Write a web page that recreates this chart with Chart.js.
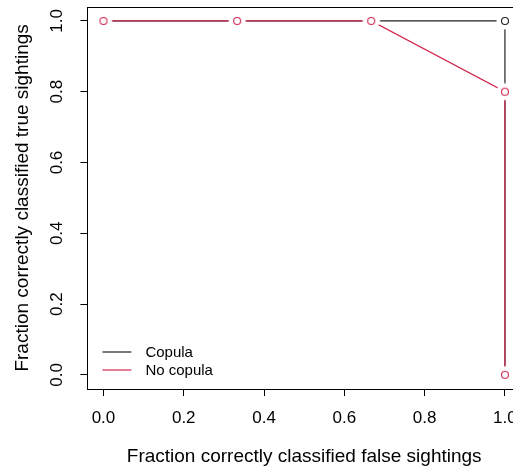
<!DOCTYPE html>
<html>
<head>
<meta charset="utf-8">
<script src="https://cdn.jsdelivr.net/npm/chart.js@4/dist/chart.umd.min.js"></script>
<style>
  html, body { margin: 0; padding: 0; background: #fff; }
  body { width: 513px; height: 468px; overflow: hidden; }
  canvas { display: block; }
</style>
</head>
<body>
<canvas id="rocChart" width="540" height="468"></canvas>
<script>
const seriesNames = ['Copula', 'No copula'];
const seriesColors = ['#222222', '#d42a52'];

// fraction of false sightings classified correctly (x) vs true sightings (y)
const copulaX = [0, 0.333, 0.667, 1, 1];
const copulaY = [1, 1, 1, 1, 0];
const noCopulaX = [0, 0.333, 0.667, 1, 1];
const noCopulaY = [1, 1, 1, 0.8, 0];

const xTicks = [0, 0.2, 0.4, 0.6, 0.8, 1.0];
const yTicks = [0, 0.2, 0.4, 0.6, 0.8, 1.0];

const xTitle = 'Fraction correctly classified false sightings';
const yTitle = 'Fraction correctly classified true sightings';

const FONT = "'Liberation Sans', Arial, sans-serif";

const toPoints = (xs, ys) => xs.map((x, i) => ({ x: x, y: ys[i] }));

// open circle on a white disc, so lines stop short of each point
function ringMarker(color) {
  const c = document.createElement('canvas');
  c.width = 20; c.height = 20;
  const g = c.getContext('2d');
  g.fillStyle = '#ffffff';
  g.beginPath(); g.arc(10, 10, 8.5, 0, Math.PI * 2); g.closePath(); g.fill();
  g.strokeStyle = color;
  g.lineWidth = 1.1;
  g.beginPath(); g.arc(10, 10, 3.5, 0, Math.PI * 2); g.stroke();
  return c;
}

// points are drawn after the dataset's own line
function series(label, xs, ys, color) {
  return {
    label: label, data: toPoints(xs, ys), showLine: true, tension: 0,
    borderColor: color, borderWidth: 1.2,
    pointRadius: 4, pointStyle: ringMarker(color)
  };
}

// box around the plot, rotated y labels and the line legend
const frame = {
  id: 'frame',
  afterDraw(chart) {
    const { ctx, chartArea: a, scales } = chart;
    ctx.save();
    ctx.strokeStyle = '#000';
    ctx.lineWidth = 1;
    ctx.strokeRect(Math.round(a.left) + 0.5, Math.round(a.top) + 0.5,
      Math.round(a.right - a.left), Math.round(a.bottom - a.top));

    ctx.fillStyle = '#000';
    ctx.font = '17px ' + FONT;
    ctx.textAlign = 'center';
    ctx.textBaseline = 'middle';
    yTicks.forEach(v => {
      const py = scales.y.getPixelForValue(v);
      ctx.save();
      ctx.translate(a.left - 30, py);
      ctx.rotate(-Math.PI / 2);
      ctx.fillText(v.toFixed(1), 0, 0);
      ctx.restore();
    });

    ctx.font = '15px ' + FONT;
    ctx.textAlign = 'left';
    seriesNames.forEach((name, i) => {
      const ly = a.bottom - 37 + i * 18;
      ctx.strokeStyle = seriesColors[i];
      ctx.lineWidth = 1.2;
      ctx.beginPath();
      ctx.moveTo(a.left + 15, ly);
      ctx.lineTo(a.left + 44, ly);
      ctx.stroke();
      ctx.fillStyle = '#000';
      ctx.fillText(name, a.left + 58, ly + 1);
    });
    ctx.restore();
  }
};

const gridOpts = {
  display: true, drawOnChartArea: false, drawTicks: true,
  tickLength: 7, color: '#000', lineWidth: 1
};

// first dataset ends up on top, so the red series covers the black one
new Chart(document.getElementById('rocChart'), {
  type: 'scatter',
  data: {
    datasets: [
      series(seriesNames[1], noCopulaX, noCopulaY, seriesColors[1]),
      series(seriesNames[0], copulaX, copulaY, seriesColors[0])
    ]
  },
  options: {
    responsive: false,
    animation: false,
    layout: { padding: { left: 13.5, top: 6.8, right: 19, bottom: 1.5 } },
    plugins: { legend: { display: false }, tooltip: { enabled: false } },
    scales: {
      x: {
        type: 'linear', min: -0.04, max: 1.04,
        afterBuildTicks: s => { s.ticks = xTicks.map(v => ({ value: v })); },
        afterFit: s => { s.height = 77.5; },
        grid: gridOpts,
        border: { display: false },
        ticks: {
          color: '#000', font: { family: FONT, size: 17 }, padding: 12,
          maxRotation: 0, callback: v => Number(v).toFixed(1)
        },
        title: {
          display: true, text: xTitle, color: '#000', padding: 0,
          font: { family: FONT, size: 19, lineHeight: 1 }
        }
      },
      y: {
        type: 'linear', min: -0.04, max: 1.04,
        afterBuildTicks: s => { s.ticks = yTicks.map(v => ({ value: v })); },
        afterFit: s => { s.width = 73.9; },
        grid: gridOpts,
        border: { display: false },
        ticks: { display: false },
        title: {
          display: true, text: yTitle, color: '#000', padding: 0,
          font: { family: FONT, size: 19, lineHeight: 1 }
        }
      }
    }
  },
  plugins: [frame]
});
</script>
</body>
</html>
